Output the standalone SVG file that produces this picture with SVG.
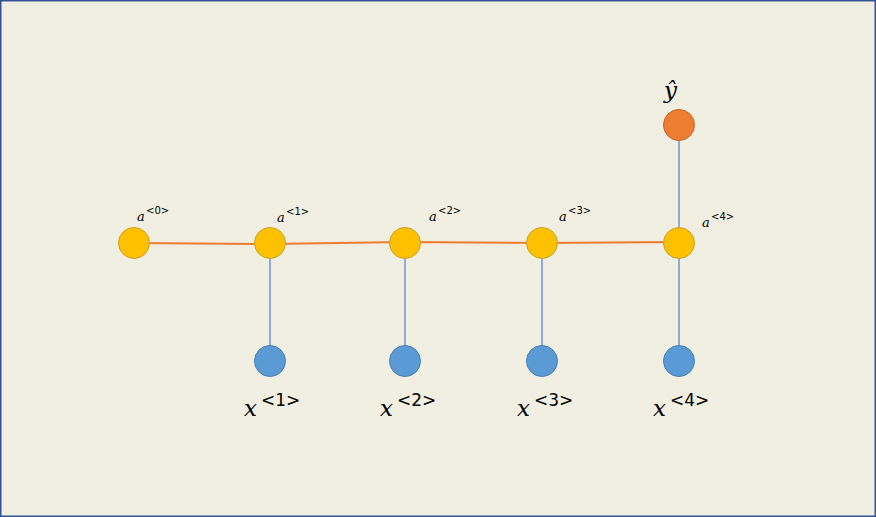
<svg xmlns="http://www.w3.org/2000/svg" width="876" height="517" viewBox="0 0 876 517">
<style>
.a{fill:#FFC000;stroke:#C9A227;stroke-width:1}
.x{fill:#5B9BD5;stroke:#4A7FB0;stroke-width:1}
.y{fill:#ED7D31;stroke:#C5652A;stroke-width:1}
.h{stroke:#ED7D31;stroke-width:2;fill:none}
.v{stroke:#2E64D0;stroke-width:1;fill:none}
.t{font-family:"DejaVu Serif","Liberation Serif",serif;font-style:italic;fill:#000}
.s{font-family:"DejaVu Sans","Liberation Sans",sans-serif;fill:#000}
</style>
<rect x="0.75" y="0.75" width="874.5" height="515.5" fill="#F1EFE2" stroke="#2F5597" stroke-width="1.5"/>
<g id="connectors">
<path class="h" d="M134 243 L270 244 L405 242 L542 243 L679 242"/>
<path class="v" d="M270 243 V361"/>
<path class="v" d="M405 243 V361"/>
<path class="v" d="M542 243 V361"/>
<path class="v" d="M679 125 V361"/>
</g>
<g id="a0"><circle class="a" cx="134" cy="243" r="15.5"/><text class="t" x="137" y="221" font-size="13">a</text><text class="s" x="146" y="214" font-size="10">&lt;0&gt;</text></g>
<g id="a1"><circle class="a" cx="270" cy="243" r="15.5"/><text class="t" x="277" y="222" font-size="13">a</text><text class="s" x="286" y="215" font-size="10">&lt;1&gt;</text></g>
<g id="a2"><circle class="a" cx="405" cy="243" r="15.5"/><text class="t" x="429" y="221" font-size="13">a</text><text class="s" x="438" y="214" font-size="10">&lt;2&gt;</text></g>
<g id="a3"><circle class="a" cx="542" cy="243" r="15.5"/><text class="t" x="559" y="221" font-size="13">a</text><text class="s" x="568" y="214" font-size="10">&lt;3&gt;</text></g>
<g id="a4"><circle class="a" cx="679" cy="243" r="15.5"/><text class="t" x="702" y="227" font-size="13">a</text><text class="s" x="711" y="220" font-size="10">&lt;4&gt;</text></g>
<g id="x1"><circle class="x" cx="270" cy="361" r="15.5"/><text class="t" x="244" y="416" font-size="23">x</text><text class="s" x="261" y="406" font-size="17">&lt;1&gt;</text></g>
<g id="x2"><circle class="x" cx="405" cy="361" r="15.5"/><text class="t" x="380" y="416" font-size="23">x</text><text class="s" x="397" y="406" font-size="17">&lt;2&gt;</text></g>
<g id="x3"><circle class="x" cx="542" cy="361" r="15.5"/><text class="t" x="517" y="416" font-size="23">x</text><text class="s" x="534" y="406" font-size="17">&lt;3&gt;</text></g>
<g id="x4"><circle class="x" cx="679" cy="361" r="15.5"/><text class="t" x="653" y="416" font-size="23">x</text><text class="s" x="670" y="406" font-size="17">&lt;4&gt;</text></g>
<g id="yhat"><circle class="y" cx="679" cy="125" r="15.5"/><text class="t" x="664" y="98" font-size="23">ŷ</text></g>
</svg>
